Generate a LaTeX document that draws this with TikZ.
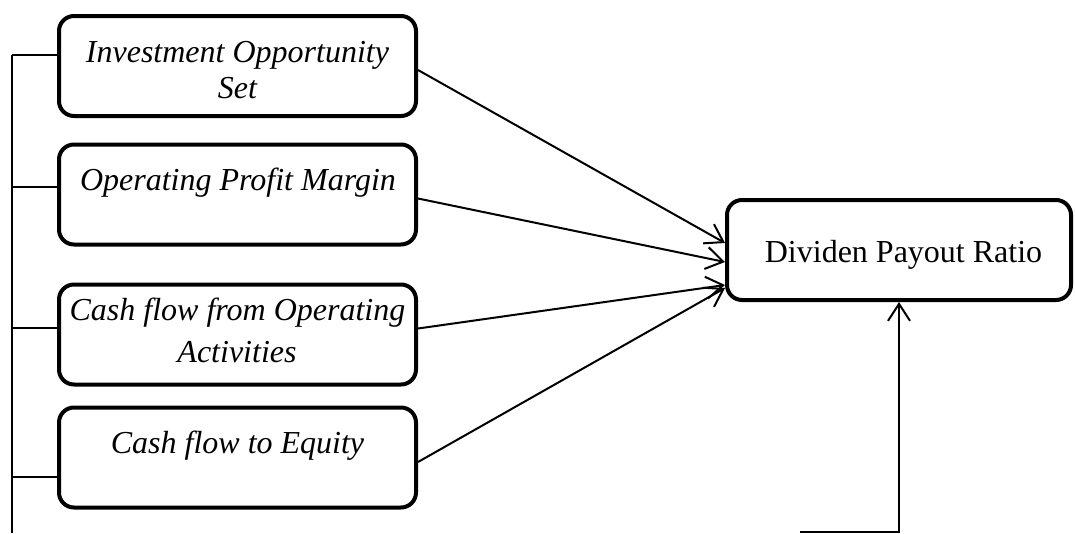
\documentclass[tikz,border=0pt]{standalone}
\usepackage{fontspec}
\setmainfont{Liberation Serif}
\usetikzlibrary{arrows.meta}
\begin{document}
\begin{tikzpicture}[x=1pt,y=-1pt,
  box/.style={draw,line width=4pt,rounded corners=15pt,minimum width=357pt,minimum height=100pt,inner sep=0pt},
  tgtbox/.style={draw,line width=4pt,rounded corners=15pt,minimum width=344pt,minimum height=100pt,inner sep=0pt},
  lbl/.style={font=\fontsize{32}{36}\selectfont\itshape,inner sep=0pt,anchor=base},
  conn/.style={line width=2pt},
  arr/.style={line width=2pt,-{Straight Barb[length=17pt,width=22pt,line width=2pt]}}]
\useasboundingbox (0,0) rectangle (1075,533);
% boxes
\node[box] (b1) at (237.5,66) {};
\node[box] (b2) at (237.5,194.5) {};
\node[box] (b3) at (237.5,334.5) {};
\node[box] (b4) at (237.5,457.5) {};
\node[tgtbox] (t) at (899,250) {};
% labels
\node[lbl] (l1a) at (237.5,62) {Investment Opportunity};
\node[lbl] (l1b) at (237.5,98) {Set};
\node[lbl] (l2) at (238,190) {Operating Profit Margin};
\node[lbl] (l3a) at (237.5,320) {Cash flow from Operating};
\node[lbl] (l3b) at (237,362) {Activities};
\node[lbl] (l4) at (237.5,453) {Cash flow to Equity};
\node[lbl,font=\fontsize{32}{36}\selectfont] (lt) at (903.5,262) {Dividen Payout Ratio};
% left bracket
\coordinate (lb) at (12,533);
\coordinate (lt1) at (12,55);
\coordinate (lt2) at (12,187);
\coordinate (lt3) at (12,328);
\coordinate (lt4) at (12,477);
\draw[conn] (lt1) -- (lb);
\draw[conn] (lt1) -- (lt1 -| b1.west);
\draw[conn] (lt2) -- (lt2 -| b2.west);
\draw[conn] (lt3) -- (lt3 -| b3.west);
\draw[conn] (lt4) -- (lt4 -| b4.west);
% arrows to target
\draw[arr] ([yshift=-4pt]b1.east) -- ([yshift=7pt]t.west);
\draw[arr] ([yshift=-4pt]b2.east) -- ([yshift=-12pt]t.west);
\draw[arr] ([yshift=6pt]b3.east) -- ([yshift=-35pt]t.west);
\draw[arr] ([yshift=-4.5pt]b4.east) -- ([yshift=-38pt]t.west);
% bottom
\coordinate (bb) at (800,532);
\draw[arr] (bb) -- (bb -| t.south) -- (t.south);
\end{tikzpicture}
\end{document}
